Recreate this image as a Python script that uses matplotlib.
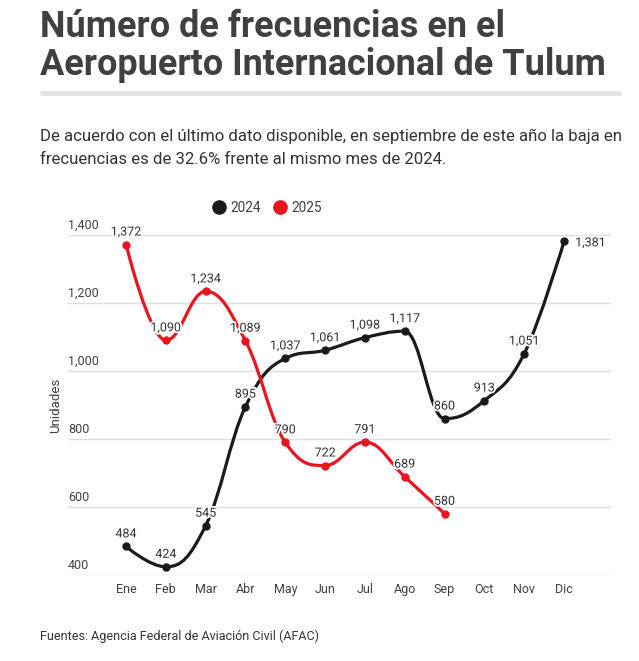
import numpy as np
import matplotlib
matplotlib.use("Agg")
import matplotlib.pyplot as plt
from matplotlib.path import Path
from matplotlib.patches import PathPatch
from matplotlib.lines import Line2D
import matplotlib.patheffects as pe

plt.rcParams['font.family'] = ['Roboto', 'DejaVu Sans']

# datos
meses = ['Ene', 'Feb', 'Mar', 'Abr', 'May', 'Jun', 'Jul', 'Ago', 'Sep', 'Oct', 'Nov', 'Dic']
frec_2024 = [484, 424, 545, 895, 1037, 1061, 1098, 1117, 860, 913, 1051, 1381]
frec_2025 = [1372, 1090, 1234, 1089, 790, 722, 791, 689, 580]
y_ticks = [400, 600, 800, 1000, 1200, 1400]

NEGRO = '#1a1a1a'
ROJO = '#e8141e'
TEXTO = '#404040'


def spline_path(xs, ys, smoothing=1.5):
    # curva tipo "spline" de Highcharts (bezier cubica)
    n = len(xs)
    denom = smoothing + 1
    lc = [None] * n
    rc = [None] * n
    for i in range(1, n - 1):
        x, y = xs[i], ys[i]
        lx, ly = xs[i - 1], ys[i - 1]
        nx, ny = xs[i + 1], ys[i + 1]
        lcx = (smoothing * x + lx) / denom
        lcy = (smoothing * y + ly) / denom
        rcx = (smoothing * x + nx) / denom
        rcy = (smoothing * y + ny) / denom
        corr = ((rcy - lcy) * (rcx - x)) / (rcx - lcx) + y - rcy
        lcy += corr
        rcy += corr
        if lcy > ly and lcy > y:
            lcy = max(ly, y)
            rcy = 2 * y - lcy
        elif lcy < ly and lcy < y:
            lcy = min(ly, y)
            rcy = 2 * y - lcy
        if rcy > ny and rcy > y:
            rcy = max(ny, y)
            lcy = 2 * y - rcy
        elif rcy < ny and rcy < y:
            rcy = min(ny, y)
            lcy = 2 * y - rcy
        lc[i] = (lcx, lcy)
        rc[i] = (rcx, rcy)
    verts = [(xs[0], ys[0])]
    codes = [Path.MOVETO]
    for i in range(1, n):
        c1 = rc[i - 1] if rc[i - 1] is not None else (xs[i - 1], ys[i - 1])
        c2 = lc[i] if lc[i] is not None else (xs[i], ys[i])
        verts += [c1, c2, (xs[i], ys[i])]
        codes += [Path.CURVE4] * 3
    return Path(verts, codes)


fig = plt.figure(figsize=(6.39, 6.61), dpi=100)
W, H = 639, 661

# titulo
fig.text(40 / W, 1 - 37 / H, 'Número de frecuencias en el', fontsize=25.9,
         fontweight='bold', color=TEXTO, va='baseline')
fig.text(40 / W, 1 - 75 / H, 'Aeropuerto Internacional de Tulum', fontsize=25.9,
         fontweight='bold', color=TEXTO, va='baseline')
fig.add_artist(Line2D([40 / W, 621 / W], [1 - 92.5 / H] * 2, color='#e3e3e3', lw=3.5,
                      solid_capstyle='butt'))

fig.text(40 / W, 1 - 141 / H,
         'De acuerdo con el último dato disponible, en septiembre de este año la baja en',
         fontsize=12.05, color='#333333', va='baseline')
fig.text(40 / W, 1 - 164 / H, 'frecuencias es de 32.6% frente al mismo mes de 2024.',
         fontsize=12.05, color='#333333', va='baseline')

fig.text(40 / W, 1 - 640 / H, 'Fuentes: Agencia Federal de Aviación Civil (AFAC)',
         fontsize=9, color='#333333', va='baseline')

ax = fig.add_axes([68 / W, 1 - 575 / H, 543 / W, 340 / H])
x_left = -58 / 39.82
x_right = x_left + 543 / 39.82
ax.set_xlim(x_left, x_right)
ax.set_ylim(400, 1400)

for s in ax.spines.values():
    s.set_visible(False)
ax.set_yticks([])
for v in y_ticks:
    ax.axhline(v, color='#dddddd', lw=1, zorder=0)
    ax.annotate(f'{v:,}', xy=(0, v), xycoords=('axes fraction', 'data'),
                xytext=(0, 2), textcoords='offset points', ha='left', va='bottom',
                fontsize=9, color=TEXTO)

ax.set_xticks(range(len(meses)))
ax.set_xticklabels(meses, fontsize=9, color=TEXTO)
ax.tick_params(axis='x', length=0, pad=6)

fig.text(56 / W, 1 - 405 / H, 'Unidades', rotation=90, fontsize=9.5,
         color=TEXTO, ha='center', va='center')

halo = [pe.withStroke(linewidth=2.5, foreground='white')]
for vals, col in [(frec_2024, NEGRO), (frec_2025, ROJO)]:
    xs = list(range(len(vals)))
    ax.add_patch(PathPatch(spline_path(xs, vals), facecolor='none', edgecolor=col,
                           lw=2.3, capstyle='round', zorder=3, clip_on=False))
    ax.plot(xs, vals, 'o', color=col, markersize=5, zorder=4, clip_on=False)
    for x, v in zip(xs, vals):
        if col == NEGRO and x == len(vals) - 1:
            ax.annotate(f'{v:,}', (x, v), xytext=(8, -1), textcoords='offset points',
                        ha='left', va='center', fontsize=9, color='#333333',
                        path_effects=halo, zorder=5)
        else:
            ax.annotate(f'{v:,}', (x, v), xytext=(0, 6.5), textcoords='offset points',
                        ha='center', va='baseline', fontsize=9, color='#333333',
                        path_effects=halo, zorder=5)

handles = [Line2D([], [], ls='none', marker='o', color=NEGRO, markersize=9.5),
           Line2D([], [], ls='none', marker='o', color=ROJO, markersize=9.5)]
fig.legend(handles, ['2024', '2025'], loc='center', bbox_to_anchor=(267 / W, 1 - 208 / H),
           ncol=2, frameon=False, fontsize=9.8, handletextpad=0.35, columnspacing=0.9,
           handlelength=1.0, labelcolor=TEXTO)

fig.savefig('out.png', dpi=100, facecolor='white')
